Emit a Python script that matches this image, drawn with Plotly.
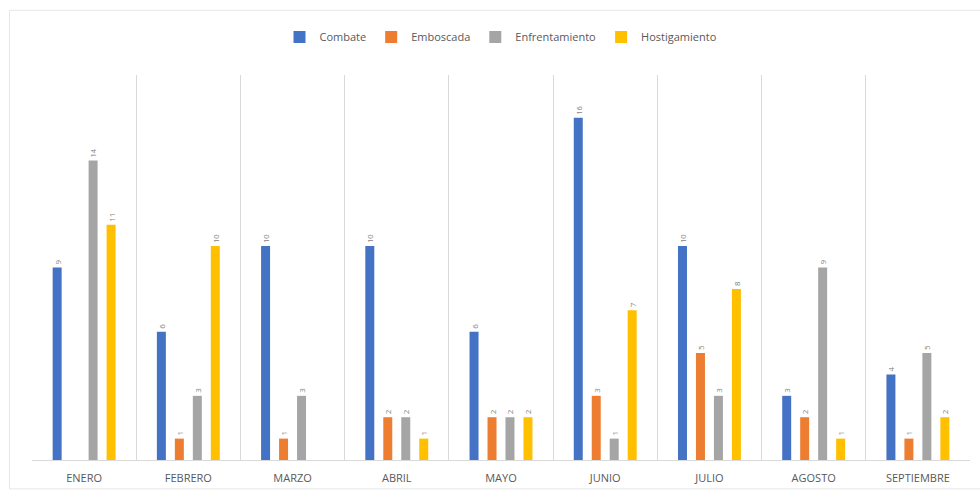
import plotly.graph_objects as go

# Monthly counts by event type
meses = ["ENERO", "FEBRERO", "MARZO", "ABRIL", "MAYO", "JUNIO", "JULIO", "AGOSTO", "SEPTIEMBRE"]
combate = [9, 6, 10, 10, 6, 16, 10, 3, 4]
emboscada = [0, 1, 1, 2, 2, 3, 5, 2, 1]
enfrentamiento = [14, 3, 3, 2, 2, 1, 3, 9, 5]
hostigamiento = [11, 10, 0, 1, 2, 7, 8, 1, 2]

series = [
    ("Combate", combate, "#4472C4"),
    ("Emboscada", emboscada, "#ED7D31"),
    ("Enfrentamiento", enfrentamiento, "#A5A5A5"),
    ("Hostigamiento", hostigamiento, "#FFC000"),
]

fig = go.Figure()
for name, vals, color in series:
    fig.add_trace(go.Bar(
        x=meses,
        y=vals,
        name=name,
        marker=dict(color=color, line=dict(width=0)),
        text=[str(v) if v > 0 else "" for v in vals],
        textposition="outside",
        textangle=-90,
        textfont=dict(size=8, color="#7f7f7f"),
        cliponaxis=False,
    ))

fig.update_layout(
    width=980,
    height=497,
    barmode="group",
    bargap=0.31,
    bargroupgap=0.5,
    plot_bgcolor="white",
    paper_bgcolor="white",
    margin=dict(l=32, r=10, t=75, b=37),
    font=dict(family="Open Sans, Liberation Sans, sans-serif", color="#595959"),
    legend=dict(
        orientation="h",
        x=0.5,
        xanchor="center",
        y=1.099,
        yanchor="middle",
        font=dict(size=11, color="#595959"),
        itemwidth=30,
        traceorder="normal",
    ),
    xaxis=dict(
        type="category",
        tickson="boundaries",
        showgrid=True,
        gridcolor="#d9d9d9",
        gridwidth=1,
        ticks="",
        showline=True,
        linecolor="#d9d9d9",
        tickfont=dict(size=11, color="#595959"),
        ticklabelstandoff=8,
        mirror=False,
    ),
    yaxis=dict(
        range=[0, 18],
        showgrid=False,
        showticklabels=False,
        zeroline=False,
        ticks="",
    ),
    shapes=[
        dict(
            type="rect",
            xref="paper",
            yref="paper",
            x0=-0.024,
            x1=1.05,
            y0=-0.075,
            y1=1.168,
            line=dict(color="#e6e6e6", width=1),
            fillcolor="rgba(0,0,0,0)",
            layer="below",
        )
    ],
)

fig.write_html("out.html")
